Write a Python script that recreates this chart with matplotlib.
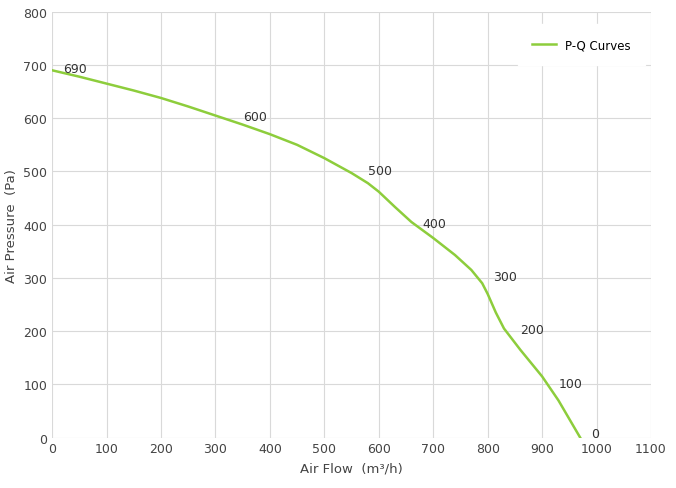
import matplotlib
matplotlib.use("Agg")
import matplotlib.pyplot as plt

flow = [0, 50, 100, 150, 200, 250, 300, 350, 400, 450, 500, 550, 580, 600, 630, 660, 700, 740, 770, 790, 800, 815, 830, 860, 900, 930, 970]
pressure = [690, 678, 665, 652, 638, 622, 605, 588, 570, 550, 525, 497, 478, 462, 433, 405, 375, 343, 315, 290, 270, 235, 205, 165, 115, 70, 0]
label_flow = [0, 330, 560, 660, 790, 840, 910, 970]
label_p = [690, 600, 500, 400, 300, 200, 100, 0]

fig = plt.figure(figsize=(6.76, 4.89), dpi=100)
ax = fig.add_axes([0.077, 0.103, 0.886, 0.871])
ax.plot(flow, pressure, color="#8dcd3c", lw=1.8, label="P-Q Curves")
for fx, p in zip(label_flow, label_p):
    ax.annotate(str(p), (fx, p), xytext=(8, 1 if p else 3), textcoords="offset points",
                fontsize=9, color="#333333", va="center")
ax.set_xlim(0, 1100)
ax.set_ylim(0, 800)
ax.set_xticks(range(0, 1101, 100))
ax.set_yticks(range(0, 801, 100))
ax.grid(color="#d9d9d9", lw=0.8)
ax.set_axisbelow(True)
for s in ax.spines.values():
    s.set_visible(False)
ax.tick_params(length=0, labelsize=9, colors="#444444")
ax.set_xlabel("Air Flow  (m³/h)", fontsize=9.5, color="#444444")
ax.set_ylabel("Air Pressure  (Pa)", fontsize=9.5, color="#444444")
leg = ax.legend(loc="upper right", bbox_to_anchor=(1.0, 0.985), fontsize=8.5,
                frameon=True, fancybox=False, edgecolor="white", framealpha=1,
                borderpad=1.2)
fig.savefig("out.png", dpi=100, facecolor="white")
